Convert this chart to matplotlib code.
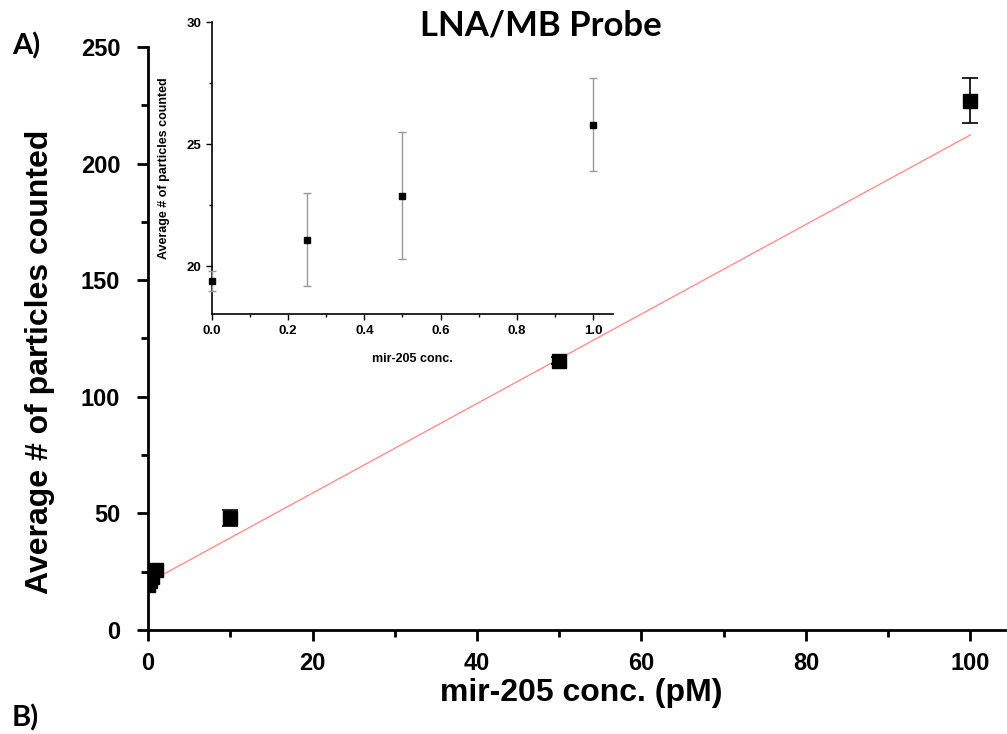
import matplotlib
matplotlib.use('Agg')
import matplotlib.pyplot as plt
import numpy as np

# main panel data (pM)
conc = [0, 0.25, 0.5, 1, 10, 50, 100]
counts = [19.4, 21.1, 22.9, 25.8, 48.0, 115.5, 227.0]
counts_err = [0.4, 1.9, 2.6, 1.9, 3.5, 1.5, 9.5]

# linear fit line endpoints
fit_x = [0.5, 100]
fit_slope = 1.92
fit_icpt = 20.3

# inset data (low concentrations)
inset_conc = [0, 0.25, 0.5, 1.0]
inset_counts = [19.4, 21.1, 22.9, 25.8]
inset_err = [0.4, 1.9, 2.6, 1.9]

plt.rcParams['font.family'] = ['Liberation Sans', 'DejaVu Sans']

fig = plt.figure(figsize=(10.07, 7.34), dpi=100)
ax = fig.add_axes([0.147, 0.1417, 0.851, 0.7943])

ax.errorbar(conc, counts, yerr=counts_err, fmt='s', color='black', ms=10,
            ecolor='black', elinewidth=1.2, capsize=6, capthick=1.2, zorder=3)
fx = np.array(fit_x)
ax.plot(fx, fit_slope * fx + fit_icpt, color='#ff9090', lw=1, zorder=2)

ax.set_xlim(0, 104.2)
ax.set_ylim(0, 250)
ax.set_xticks([0, 20, 40, 60, 80, 100])
ax.set_xticks([10, 30, 50, 70, 90], minor=True)
ax.set_yticks([0, 50, 100, 150, 200, 250])
ax.set_yticks([25, 75, 125, 175, 225], minor=True)
for s in ['top', 'right']:
    ax.spines[s].set_visible(False)
for s in ['left', 'bottom']:
    ax.spines[s].set_linewidth(2)
ax.tick_params(which='major', length=8, width=2, labelsize=17)
ax.tick_params(axis='y', which='major', pad=12)
ax.tick_params(axis='x', which='major', pad=8)
ax.tick_params(which='minor', length=5, width=2)
for lab in ax.get_xticklabels() + ax.get_yticklabels():
    lab.set_fontweight('bold')
ax.set_xlabel('mir-205 conc. (pM)', fontsize=23, fontweight='bold')
ax.set_ylabel('Average # of particles counted', fontsize=23, fontweight='bold')
ax.xaxis.set_label_coords(0.505, -0.083)
ax.yaxis.set_label_coords(-0.108, 0.46)

# inset
ins = fig.add_axes([0.2105, 0.572, 0.398, 0.398])
ins.errorbar(inset_conc, inset_counts, yerr=inset_err, fmt='s', color='black', ms=4.5,
             ecolor='#999999', elinewidth=1, capsize=3, capthick=1, zorder=3,
             clip_on=False)
ins.set_xlim(0, 1.052)
ins.set_ylim(18.05, 30)
ins.set_xticks([0, 0.2, 0.4, 0.6, 0.8, 1.0])
ins.set_xticks([0.1, 0.3, 0.5, 0.7, 0.9], minor=True)
ins.set_yticks([20, 25, 30])
ins.set_yticks([22.5, 27.5], minor=True)
for s in ['top', 'right']:
    ins.spines[s].set_visible(False)
for s in ['left', 'bottom']:
    ins.spines[s].set_linewidth(1.2)
ins.tick_params(which='major', length=4, width=1, labelsize=9.5)
ins.tick_params(which='minor', length=2, width=1)
ins.set_xticklabels(['0.0', '0.2', '0.4', '0.6', '0.8', '1.0'])
for lab in ins.get_xticklabels() + ins.get_yticklabels():
    lab.set_fontweight('bold')
ins.set_xlabel('mir-205 conc.', fontsize=9, fontweight='bold', labelpad=12)
ins.set_ylabel('Average # of particles counted', fontsize=9, fontweight='bold', labelpad=12)

fig.text(0.537, 0.965, 'LNA/MB Probe', ha='center', va='center', fontsize=25,
         fontweight='bold', family=['Lato', 'DejaVu Sans'])
fig.text(0.012, 0.938, 'A)', ha='left', va='center', fontsize=21, fontweight='bold',
         family=['Lato', 'DejaVu Sans'])
fig.text(0.012, 0.004, 'B)', ha='left', va='bottom', fontsize=21, fontweight='bold',
         family=['Lato', 'DejaVu Sans'])

fig.savefig('out.png', dpi=100)
